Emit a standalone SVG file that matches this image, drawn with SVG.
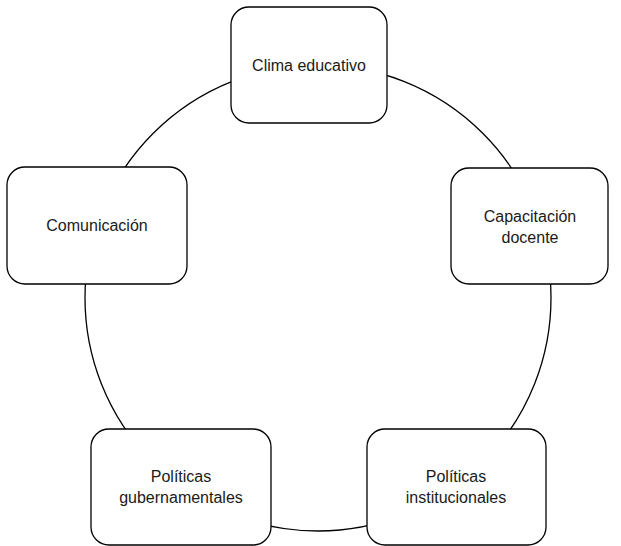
<svg xmlns="http://www.w3.org/2000/svg" width="621" height="546" viewBox="0 0 621 546">
<style>
.box{fill:#ffffff;stroke:#000000;stroke-width:1.3}
.ring{fill:none;stroke:#000000;stroke-width:1.3}
text{font-family:"Liberation Sans",Arial,sans-serif;font-size:16px;fill:#1a1a1a;text-anchor:middle}
</style>
<rect width="621" height="546" fill="#ffffff"/>
<g id="connectors">
<circle class="ring" cx="318" cy="298" r="233"/>
</g>
<g id="clima">
<rect class="box" x="231" y="7" width="156" height="116" rx="18"/>
<text x="309" y="71">Clima educativo</text>
</g>
<g id="capacitacion">
<rect class="box" x="451" y="168" width="157" height="116" rx="18"/>
<text x="530" y="222">Capacitación</text>
<text x="530" y="243">docente</text>
</g>
<g id="comunicacion">
<rect class="box" x="7" y="167" width="180" height="117" rx="18"/>
<text x="97" y="231">Comunicación</text>
</g>
<g id="gubernamentales">
<rect class="box" x="91" y="429" width="180" height="116" rx="18"/>
<text x="181" y="482">Políticas</text>
<text x="181" y="503">gubernamentales</text>
</g>
<g id="institucionales">
<rect class="box" x="367" y="429" width="179" height="116" rx="18"/>
<text x="456" y="482">Políticas</text>
<text x="456" y="503">institucionales</text>
</g>
</svg>
